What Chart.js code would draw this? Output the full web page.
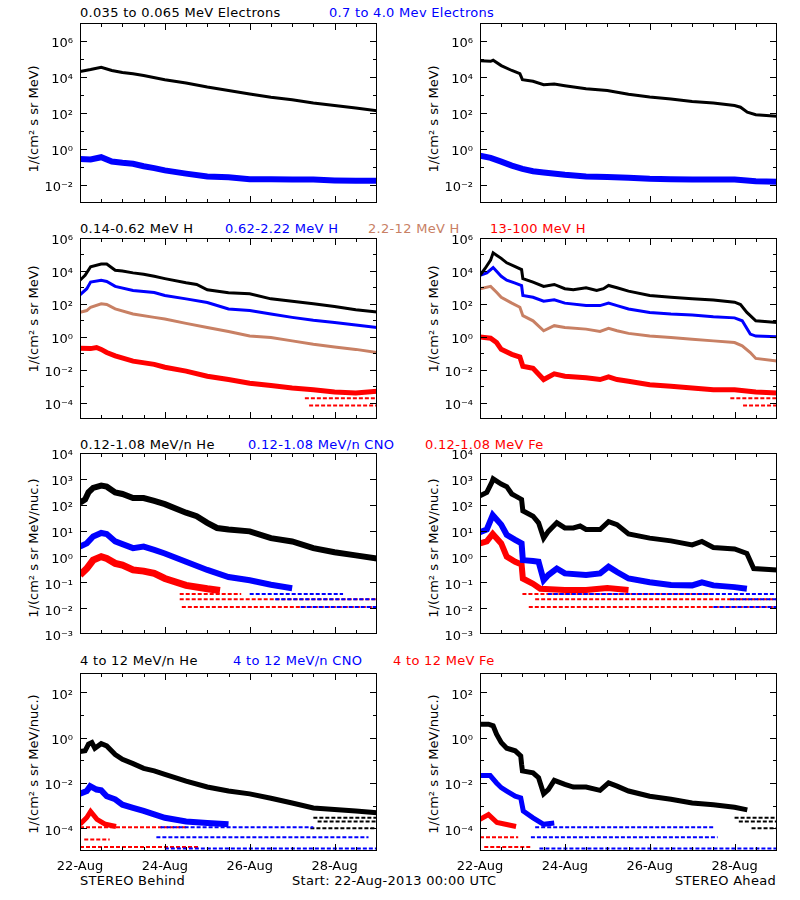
<!DOCTYPE html>
<html>
<head>
<meta charset="utf-8">
<script src="https://cdn.jsdelivr.net/npm/chart.js@4.4.0/dist/chart.umd.min.js"></script>
<style>
  body { margin: 0; background: #fff; width: 800px; height: 900px; position: relative; overflow: hidden; font-family: "DejaVu Sans", sans-serif; }
  canvas { position: absolute; }
  .t { position: absolute; font-size: 13px; line-height: 16px; letter-spacing: 0.3px; white-space: nowrap; }
  .yt { position: absolute; font-size: 13px; white-space: nowrap; transform: translate(-50%, -50%) rotate(-90deg); }
</style>
</head>
<body>

<div class="t" style="left:80px;top:5px;color:#000">0.035 to 0.065 MeV Electrons</div>
<div class="t" style="left:329px;top:5px;color:#0000ff">0.7 to 4.0 Mev Electrons</div>

<div class="t" style="left:80px;top:221px;color:#000">0.14-0.62 MeV H</div>
<div class="t" style="left:225px;top:221px;color:#0000ff">0.62-2.22 MeV H</div>
<div class="t" style="left:368px;top:221px;color:rgb(200,128,100)">2.2-12 MeV H</div>
<div class="t" style="left:490px;top:221px;color:#ff0000">13-100 MeV H</div>

<div class="t" style="left:80px;top:437px;color:#000">0.12-1.08 MeV/n He</div>
<div class="t" style="left:248px;top:437px;color:#0000ff">0.12-1.08 MeV/n CNO</div>
<div class="t" style="left:425px;top:437px;color:#ff0000">0.12-1.08 MeV Fe</div>

<div class="t" style="left:80px;top:653px;color:#000">4 to 12 MeV/n He</div>
<div class="t" style="left:233px;top:653px;color:#0000ff">4 to 12 MeV/n CNO</div>
<div class="t" style="left:393px;top:653px;color:#ff0000">4 to 12 MeV Fe</div>

<div class="yt" style="left:33px;top:119px">1/(cm² s sr MeV)</div>
<div class="yt" style="left:433px;top:119px">1/(cm² s sr MeV)</div>
<div class="yt" style="left:33px;top:319px">1/(cm² s sr MeV)</div>
<div class="yt" style="left:433px;top:319px">1/(cm² s sr MeV)</div>
<div class="yt" style="left:33px;top:548px">1/(cm² s sr MeV/nuc.)</div>
<div class="yt" style="left:433px;top:548px">1/(cm² s sr MeV/nuc.)</div>
<div class="yt" style="left:33px;top:764px">1/(cm² s sr MeV/nuc.)</div>
<div class="yt" style="left:433px;top:764px">1/(cm² s sr MeV/nuc.)</div>

<div class="t" style="left:80px;top:873px">STEREO Behind</div>
<div class="t" style="left:292px;top:873px">Start: 22-Aug-2013 00:00 UTC</div>
<div class="t" style="right:24px;top:873px">STEREO Ahead</div>

<canvas id="p1" width="387" height="228" style="left:0;top:-1px"></canvas>
<canvas id="p2" width="387" height="228" style="left:400px;top:-1px"></canvas>
<canvas id="p3" width="387" height="229" style="left:0;top:214px"></canvas>
<canvas id="p4" width="387" height="229" style="left:400px;top:214px"></canvas>
<canvas id="p5" width="387" height="229" style="left:0;top:429px"></canvas>
<canvas id="p6" width="387" height="229" style="left:400px;top:429px"></canvas>
<canvas id="p7" width="387" height="227" style="left:0;top:649px"></canvas>
<canvas id="p8" width="387" height="227" style="left:400px;top:649px"></canvas>

<script>
// time axis: days since 22-Aug-2013 00:00 UTC
const dateTicks = [0, 2, 4, 6];
const dateLabels = ['22-Aug', '24-Aug', '26-Aug', '28-Aug'];

// row 1: electrons
const bEloDays = [0, 0.25, 0.5, 0.75, 1, 1.25, 1.5, 2, 2.5, 3, 3.5, 4, 4.5, 5, 5.5, 6, 6.5, 7];
const bEloFlux = [2.0e4, 2.6e4, 3.5e4, 2.3e4, 1.8e4, 1.5e4, 1.2e4, 7.1e3, 4.7e3, 2.8e3, 1.8e3, 1.15e3, 7.4e2, 5.5e2, 3.6e2, 2.6e2, 1.9e2, 1.35e2];
const bEhiDays = [0, 0.25, 0.5, 0.75, 1, 1.25, 1.5, 1.75, 2, 2.5, 3, 3.5, 4, 4.5, 5, 5.5, 6, 6.5, 7];
const bEhiFlux = [0.28, 0.26, 0.35, 0.20, 0.17, 0.15, 0.11, 0.087, 0.065, 0.043, 0.030, 0.027, 0.021, 0.021, 0.020, 0.020, 0.018, 0.017, 0.017];
const aEloDays = [0, 0.25, 0.31, 0.5, 0.75, 0.94, 1.0, 1.25, 1.5, 1.75, 2, 2.5, 3, 3.5, 4, 4.5, 5, 5.5, 6, 6.14, 6.3, 6.5, 7];
const aEloFlux = [8.1e4, 7.4e4, 8.5e4, 4.3e4, 2.3e4, 1.55e4, 7.1e3, 5.8e3, 3.7e3, 4.1e3, 3.3e3, 2.2e3, 1.8e3, 1.1e3, 7.8e2, 6.0e2, 4.3e2, 3.6e2, 2.6e2, 2.1e2, 1.1e2, 8.0e1, 6.5e1];
const aEhiDays = [0, 0.25, 0.5, 0.75, 1, 1.25, 1.5, 2, 2.5, 3, 3.5, 4, 4.5, 5, 5.5, 6, 6.5, 7];
const aEhiFlux = [0.43, 0.32, 0.20, 0.12, 0.078, 0.058, 0.050, 0.037, 0.030, 0.028, 0.025, 0.022, 0.021, 0.020, 0.020, 0.020, 0.016, 0.015];

// row 2: protons
const bH1Days = [0, 0.12, 0.25, 0.5, 0.63, 0.83, 1, 1.25, 1.5, 1.75, 2, 2.5, 2.75, 3, 3.5, 4, 4.5, 5, 5.5, 6, 6.5, 7];
const bH1Flux = [2.7e3, 5.4e3, 1.8e4, 2.6e4, 2.6e4, 1.1e4, 1.0e4, 7.6e3, 6.3e3, 4.7e3, 3.4e3, 1.9e3, 1.5e3, 7.1e2, 4.7e2, 4.1e2, 2.0e2, 1.45e2, 1.0e2, 6.8e1, 4.3e1, 3.2e1];
const bH2Days = [0, 0.16, 0.25, 0.5, 0.63, 0.83, 1.25, 1.75, 2, 2.5, 3, 3.5, 4, 4.5, 5, 5.5, 6, 6.5, 7];
const bH2Flux = [3.5e2, 8.3e2, 2.1e3, 2.7e3, 2.3e3, 1.15e3, 6.5e2, 4.9e2, 3.2e2, 2.0e2, 1.2e2, 4.9e1, 3.9e1, 2.4e1, 1.5e1, 1.0e1, 7.4, 5.1, 3.6];
const bH3Days = [0, 0.16, 0.25, 0.5, 0.63, 0.83, 1.25, 1.75, 2, 2.5, 3, 3.5, 4, 4.5, 5, 5.5, 6, 6.5, 7];
const bH3Flux = [30, 39, 62, 100, 91, 49, 24, 15, 12, 6.5, 3.6, 2.1, 1.1, 0.89, 0.56, 0.35, 0.24, 0.17, 0.11];
const bH4Days = [0, 0.25, 0.39, 0.5, 0.63, 0.83, 1.25, 1.75, 2, 2.5, 3, 3.5, 4, 4.5, 5, 5.5, 6, 6.5, 7];
const bH4Flux = [0.20, 0.19, 0.22, 0.17, 0.11, 0.068, 0.033, 0.021, 0.014, 8.1e-3, 4.0e-3, 2.5e-3, 1.5e-3, 1.1e-3, 7.6e-4, 6.0e-4, 4.4e-4, 3.8e-4, 4.8e-4];
const bH4FloorLevel = [1.8e-4, 6.5e-5];
const bH4FloorFrom = [5.3, 5.4];
const bH4FloorTo = [7, 7];

const aH1Days = [0, 0.12, 0.25, 0.31, 0.39, 0.5, 0.63, 0.83, 0.98, 1.01, 1.25, 1.5, 1.75, 2, 2.2, 2.5, 2.75, 2.91, 3.03, 3.23, 3.5, 4, 4.5, 5, 5.5, 6, 6.14, 6.29, 6.5, 7];
const aH1Flux = [5.4e3, 1.4e4, 4.5e4, 1.25e5, 9.1e4, 5.8e4, 3.1e4, 1.8e4, 1.2e4, 3.4e3, 2.1e3, 1.15e3, 1.5e3, 8.3e2, 7.1e2, 9.5e2, 6.5e2, 8.3e2, 1.3e3, 9.5e2, 5.9e2, 3.2e2, 2.5e2, 2.0e2, 1.7e2, 1.25e2, 9.1e1, 3.0e1, 9.3, 7.4];
const aH2Days = [0, 0.16, 0.31, 0.5, 0.63, 0.83, 0.98, 1.01, 1.25, 1.5, 1.75, 2, 2.5, 2.83, 3.03, 3.23, 3.5, 4, 4.5, 5, 5.5, 6, 6.18, 6.37, 6.5, 7];
const aH2Flux = [5.4e3, 7.6e3, 1.6e4, 4.7e3, 2.7e3, 1.8e3, 1.3e3, 3.2e2, 2.5e2, 1.45e2, 1.75e2, 1.1e2, 7.8e1, 7.8e1, 1.1e2, 7.8e1, 4.9e1, 3.0e1, 2.4e1, 2.1e1, 1.65e1, 1.4e1, 9.3, 1.45, 1.1, 0.98];
const aH3Days = [0, 0.25, 0.39, 0.5, 0.75, 0.94, 1.01, 1.25, 1.5, 1.75, 2, 2.5, 2.83, 3.03, 3.23, 3.5, 4, 4.5, 5, 5.5, 6, 6.18, 6.37, 6.5, 7];
const aH3Flux = [8.3e2, 1.15e3, 5.1e2, 2.5e2, 1.1e2, 6.2e1, 1.9e1, 9.3, 2.3, 4.7, 3.6, 2.9, 2.1, 3.2, 2.3, 1.6, 1.1, 0.89, 0.71, 0.56, 0.44, 0.28, 0.11, 0.048, 0.033];
const aH4Days = [0, 0.25, 0.39, 0.5, 0.75, 0.94, 1.01, 1.25, 1.5, 1.75, 2, 2.5, 2.83, 3.03, 3.23, 3.5, 4, 4.5, 5, 5.5, 6, 6.5, 7];
const aH4Flux = [0.98, 0.81, 0.44, 0.17, 0.085, 0.058, 0.016, 0.012, 2.5e-3, 5.5e-3, 4.0e-3, 3.2e-3, 2.5e-3, 3.6e-3, 2.5e-3, 1.95e-3, 1.2e-3, 9.8e-4, 7.6e-4, 6.0e-4, 6.0e-4, 4.4e-4, 3.8e-4];
const aH4FloorLevel = [1.8e-4, 6.5e-5];
const aH4FloorFrom = [5.9, 6.2];
const aH4FloorTo = [7, 7];

// row 3: 0.12-1.08 MeV/n ions
const bHeDays = [0, 0.12, 0.2, 0.31, 0.5, 0.63, 0.83, 1, 1.25, 1.5, 1.75, 2, 2.5, 2.75, 3, 3.23, 3.5, 4, 4.5, 5, 5.5, 6, 6.5, 7];
const bHeFlux = [120, 160, 300, 450, 550, 500, 300, 260, 180, 180, 140, 105, 49, 36, 20, 12.6, 11, 9.3, 5.1, 3.8, 2.1, 1.45, 1.1, 0.83];
const bCnoDays = [0, 0.16, 0.31, 0.5, 0.63, 0.83, 1, 1.25, 1.5, 1.75, 2, 2.5, 3, 3.5, 4, 4.5, 5];
const bCnoFlux = [2.4, 3.2, 5.9, 8.1, 7.4, 3.8, 3.0, 2.1, 2.4, 1.8, 1.3, 0.62, 0.30, 0.16, 0.12, 0.080, 0.059];
const bFeDays = [0, 0.16, 0.31, 0.5, 0.63, 0.83, 1, 1.25, 1.5, 1.75, 2, 2.5, 3, 3.3];
const bFeFlux = [0.19, 0.34, 0.72, 0.98, 0.83, 0.54, 0.46, 0.30, 0.27, 0.22, 0.14, 0.076, 0.056, 0.048];
const bCnoFloorLevel = [0.035, 0.022, 0.011];
const bCnoFloorFrom = [4.0, 4.6, 5.2];
const bCnoFloorTo = [6.2, 7, 7];
const bFeFloorLevel = [0.035, 0.022, 0.011];
const bFeFloorFrom = [2.35, 2.35, 2.4];
const bFeFloorTo = [3.8, 7, 7];

const aHeDays = [0, 0.16, 0.28, 0.31, 0.5, 0.63, 0.75, 0.83, 0.98, 1.01, 1.25, 1.38, 1.5, 1.61, 1.81, 2, 2.2, 2.36, 2.5, 2.83, 3.03, 3.23, 3.5, 4, 4.5, 5, 5.23, 5.5, 6, 6.29, 6.45, 7];
const aHeFlux = [220, 300, 740, 1000, 630, 500, 260, 220, 160, 58, 36, 20, 5.1, 9.3, 20, 12.6, 12.6, 15, 11, 11, 22, 17, 7.4, 5.1, 4.0, 2.8, 3.8, 2.2, 1.95, 1.3, 0.34, 0.30];
const aCnoDays = [0, 0.16, 0.3, 0.5, 0.63, 0.83, 0.98, 1.01, 1.25, 1.38, 1.5, 1.61, 1.81, 2, 2.5, 2.83, 3.03, 3.23, 3.5, 4, 4.5, 5, 5.23, 5.5, 6, 6.29];
const aCnoFlux = [8.7, 11, 40, 17, 6.9, 4.4, 3.2, 0.72, 0.66, 0.62, 0.12, 0.19, 0.34, 0.22, 0.19, 0.22, 0.40, 0.25, 0.14, 0.10, 0.079, 0.076, 0.10, 0.076, 0.065, 0.056];
const aFeDays = [0, 0.16, 0.3, 0.5, 0.63, 0.83, 0.98, 1.01, 1.25, 1.42, 2, 2.5, 3, 3.5];
const aFeFlux = [3.2, 3.8, 7.4, 3.2, 0.98, 0.62, 0.49, 0.14, 0.087, 0.056, 0.05, 0.05, 0.06, 0.05];
const aCnoFloorLevel = [0.035, 0.022, 0.011];
const aCnoFloorFrom = [1.6, 5.9, 5.5];
const aCnoFloorTo = [7, 7, 7];
const aFeFloorLevel = [0.035, 0.022, 0.011];
const aFeFloorFrom = [1.0, 1.3, 1.15];
const aFeFloorTo = [5.5, 7, 7];

// row 4: 4-12 MeV/n ions
const bHe4Days = [0, 0.12, 0.2, 0.28, 0.35, 0.5, 0.63, 0.83, 1, 1.25, 1.5, 1.75, 2, 2.5, 3, 3.5, 4, 4.5, 5, 5.5, 6, 6.5, 7];
const bHe4Flux = [0.24, 0.26, 0.51, 0.60, 0.34, 0.54, 0.43, 0.18, 0.11, 0.071, 0.044, 0.034, 0.024, 0.012, 6.6e-3, 4.4e-3, 3.3e-3, 2.1e-3, 1.3e-3, 7.9e-4, 6.8e-4, 5.8e-4, 4.8e-4];
const bCno4Days = [0, 0.16, 0.24, 0.39, 0.5, 0.63, 0.83, 1, 1.25, 1.5, 1.75, 2, 2.5, 3, 3.5];
const bCno4Flux = [3.3e-3, 4.4e-3, 7.2e-3, 5.1e-3, 4.7e-3, 2.6e-3, 1.9e-3, 1.1e-3, 7.9e-4, 5.8e-4, 4.1e-4, 2.9e-4, 2.0e-4, 1.7e-4, 1.5e-4];
const bFe4Days = [0, 0.16, 0.25, 0.4, 0.6, 0.85];
const bFe4Flux = [1.5e-4, 3.0e-4, 5.5e-4, 2.5e-4, 1.5e-4, 1.2e-4];
const bHe4FloorLevel = [2.9e-4, 2.0e-4, 1.0e-4];
const bHe4FloorFrom = [5.5, 5.6, 5.43];
const bHe4FloorTo = [7, 7, 7];
const bCno4FloorLevel = [1.1e-4, 4.0e-5, 1.3e-5];
const bCno4FloorFrom = [1.9, 1.8, 2.0];
const bCno4FloorTo = [5.5, 6.8, 7];
const bFe4FloorLevel = [1.1e-4, 3.2e-5, 1.5e-5];
const bFe4FloorFrom = [0, 0.1, 0];
const bFe4FloorTo = [2.5, 0.7, 2.8];

const aHe4Days = [0, 0.2, 0.31, 0.39, 0.5, 0.63, 0.83, 0.96, 0.98, 1.0, 1.25, 1.38, 1.5, 1.61, 1.75, 2, 2.2, 2.5, 2.83, 3.03, 3.23, 3.5, 4, 4.5, 5, 5.5, 6, 6.3];
const aHe4Flux = [3.9, 3.9, 3.3, 1.4, 0.60, 0.34, 0.26, 0.155, 0.066, 0.034, 0.028, 0.017, 3.3e-3, 5.1e-3, 0.013, 8.7e-3, 6.6e-3, 6.6e-3, 4.7e-3, 0.010, 7.2e-3, 4.4e-3, 2.6e-3, 1.9e-3, 1.3e-3, 1.1e-3, 8.5e-4, 6.5e-4];
const aCno4Days = [0, 0.24, 0.39, 0.5, 0.63, 0.83, 0.96, 1.02, 1.25, 1.5, 1.75];
const aCno4Flux = [0.021, 0.021, 0.010, 6.2e-3, 4.4e-3, 2.6e-3, 2.2e-3, 5.8e-4, 2.9e-4, 1.5e-4, 1.7e-4];
const aFe4Days = [0, 0.2, 0.4, 0.6, 0.85];
const aFe4Flux = [2.5e-4, 4.0e-4, 1.8e-4, 1.5e-4, 1.2e-4];
const aHe4FloorLevel = [2.9e-4, 2.0e-4, 1.0e-4];
const aHe4FloorFrom = [6.0, 6.1, 6.4];
const aHe4FloorTo = [7, 7, 7];
const aCno4FloorLevel = [1.1e-4, 4.0e-5, 1.3e-5];
const aCno4FloorFrom = [1.3, 1.2, 1.4];
const aCno4FloorTo = [5.5, 5.6, 7];
const aFe4FloorLevel = [4.0e-5, 1.5e-5];
const aFe4FloorFrom = [0, 0.1];
const aFe4FloorTo = [0.9, 1.2];

const BLACK = '#000000';
const BLUE = '#0000ff';
const RED = '#ff0000';
const BROWN = 'rgb(200,128,100)';

function series(days, flux, color, width) {
    return {
        data: days.map((d, i) => ({ x: d, y: flux[i] })),
        borderColor: color,
        borderWidth: width,
        pointRadius: 0,
        tension: 0,
        clip: 0
    };
}

function floors(levels, from, to, color) {
    return levels.map((lv, i) => ({
        data: [{ x: from[i], y: lv }, { x: to[i], y: lv }],
        borderColor: color,
        borderWidth: 2,
        borderDash: [4, 2],
        pointRadius: 0,
        clip: 0
    }));
}

const SUP = { '-': '\u207b', '0': '\u2070', '1': '\u00b9', '2': '\u00b2', '3': '\u00b3', '4': '\u2074', '5': '\u2075', '6': '\u2076', '7': '\u2077', '8': '\u2078', '9': '\u2079' };
const sup = e => String(e).split('').map(c => SUP[c]).join('');

// inward tick marks and plot frame, IDL style
const frame = {
    id: 'frame',
    afterDraw(chart, args, opts) {
        const { ctx, chartArea: a, scales: { x, y } } = chart;
        ctx.save();
        ctx.strokeStyle = '#000';
        ctx.lineWidth = 1;
        ctx.strokeRect(Math.round(a.left) + 0.5, Math.round(a.top) + 0.5, Math.round(a.right - a.left) - 1, Math.round(a.bottom - a.top) - 1);
        ctx.beginPath();
        for (let d = 0.5; d < 7; d += 0.5) {
            const px = Math.round(x.getPixelForValue(d)) + 0.5;
            const len = d % 2 === 0 ? 7 : 4;
            ctx.moveTo(px, a.bottom); ctx.lineTo(px, a.bottom - len);
            ctx.moveTo(px, a.top); ctx.lineTo(px, a.top + len);
        }
        for (let e = opts.lo; e <= opts.hi; e++) {
            const py = Math.round(y.getPixelForValue(Math.pow(10, e))) + 0.5;
            if (py <= a.top + 1 || py >= a.bottom - 1) continue;
            const len = (opts.every === 1 || e % 2 === 0) ? 7 : 4;
            ctx.moveTo(a.left, py); ctx.lineTo(a.left + len, py);
            ctx.moveTo(a.right, py); ctx.lineTo(a.right - len, py);
        }
        ctx.stroke();
        ctx.restore();
    }
};

function makePanel(id, yMin, yMax, lo, hi, every, bottom, datasets) {
    new Chart(document.getElementById(id).getContext('2d'), {
        type: 'line',
        data: { datasets: datasets },
        plugins: [frame],
        options: {
            responsive: false,
            animation: false,
            events: [],
            layout: { padding: { top: 24, right: 10, bottom: bottom ? 0 : 24, left: 0 } },
            plugins: { legend: { display: false }, tooltip: { enabled: false }, frame: { lo: lo, hi: hi, every: every } },
            scales: {
                x: {
                    type: 'linear',
                    min: 0,
                    max: 7,
                    grid: { display: false, drawTicks: false },
                    border: { display: false },
                    afterBuildTicks: s => { s.ticks = dateTicks.map(v => ({ value: v })); },
                    afterFit: s => { s.height = bottom ? 25 : 0; },
                    ticks: {
                        display: bottom,
                        autoSkip: false,
                        padding: 8,
                        maxRotation: 0,
                        color: '#000',
                        font: { family: 'DejaVu Sans', size: 13 },
                        callback: (v, i) => dateLabels[i]
                    }
                },
                y: {
                    type: 'logarithmic',
                    min: yMin,
                    max: yMax,
                    grid: { display: false, drawTicks: false },
                    border: { display: false },
                    afterBuildTicks: s => {
                        const t = [];
                        for (let e = lo; e <= hi; e++) t.push({ value: Math.pow(10, e) });
                        s.ticks = t;
                    },
                    afterFit: s => { s.width = 80; },
                    ticks: {
                        autoSkip: false,
                        padding: 7,
                        labelOffset: 3,
                        color: '#000',
                        font: { family: 'DejaVu Sans', size: 13 },
                        callback: v => {
                            const e = Math.round(Math.log10(v));
                            return (every === 1 || e % 2 === 0) ? '10' + sup(e) : '';
                        }
                    }
                }
            }
        }
    });
}

makePanel('p1', 1e-3, 1e7, -3, 7, 2, false, [
    series(bEloDays, bEloFlux, BLACK, 3),
    series(bEhiDays, bEhiFlux, BLUE, 6)
]);
makePanel('p2', 1e-3, 1e7, -3, 7, 2, false, [
    series(aEloDays, aEloFlux, BLACK, 3),
    series(aEhiDays, aEhiFlux, BLUE, 6)
]);
makePanel('p3', 1e-5, 1e6, -5, 6, 2, false, [
    ...floors(bH4FloorLevel, bH4FloorFrom, bH4FloorTo, RED),
    series(bH1Days, bH1Flux, BLACK, 3),
    series(bH2Days, bH2Flux, BLUE, 3),
    series(bH3Days, bH3Flux, BROWN, 3),
    series(bH4Days, bH4Flux, RED, 5)
]);
makePanel('p4', 1e-5, 1e6, -5, 6, 2, false, [
    ...floors(aH4FloorLevel, aH4FloorFrom, aH4FloorTo, RED),
    series(aH1Days, aH1Flux, BLACK, 3),
    series(aH2Days, aH2Flux, BLUE, 3),
    series(aH3Days, aH3Flux, BROWN, 3),
    series(aH4Days, aH4Flux, RED, 5)
]);
makePanel('p5', 1e-3, 1e4, -3, 4, 1, false, [
    ...floors(bCnoFloorLevel, bCnoFloorFrom, bCnoFloorTo, BLUE),
    ...floors(bFeFloorLevel, bFeFloorFrom, bFeFloorTo, RED),
    series(bHeDays, bHeFlux, BLACK, 6),
    series(bCnoDays, bCnoFlux, BLUE, 6),
    series(bFeDays, bFeFlux, RED, 7)
]);
makePanel('p6', 1e-3, 1e4, -3, 4, 1, false, [
    ...floors(aCnoFloorLevel, aCnoFloorFrom, aCnoFloorTo, BLUE),
    ...floors(aFeFloorLevel, aFeFloorFrom, aFeFloorTo, RED),
    series(aHeDays, aHeFlux, BLACK, 5),
    series(aCnoDays, aCnoFlux, BLUE, 6),
    series(aFeDays, aFeFlux, RED, 6)
]);
makePanel('p7', 1e-5, 7e2, -5, 2, 2, true, [
    ...floors(bCno4FloorLevel, bCno4FloorFrom, bCno4FloorTo, BLUE),
    ...floors(bFe4FloorLevel, bFe4FloorFrom, bFe4FloorTo, RED),
    ...floors(bHe4FloorLevel, bHe4FloorFrom, bHe4FloorTo, BLACK),
    series(bHe4Days, bHe4Flux, BLACK, 5),
    series(bCno4Days, bCno4Flux, BLUE, 6),
    series(bFe4Days, bFe4Flux, RED, 5)
]);
makePanel('p8', 1e-5, 7e2, -5, 2, 2, true, [
    ...floors(aCno4FloorLevel, aCno4FloorFrom, aCno4FloorTo, BLUE),
    ...floors(aFe4FloorLevel, aFe4FloorFrom, aFe4FloorTo, RED),
    ...floors(aHe4FloorLevel, aHe4FloorFrom, aHe4FloorTo, BLACK),
    series(aHe4Days, aHe4Flux, BLACK, 5),
    series(aCno4Days, aCno4Flux, BLUE, 5),
    series(aFe4Days, aFe4Flux, RED, 5)
]);
</script>
</body>
</html>
